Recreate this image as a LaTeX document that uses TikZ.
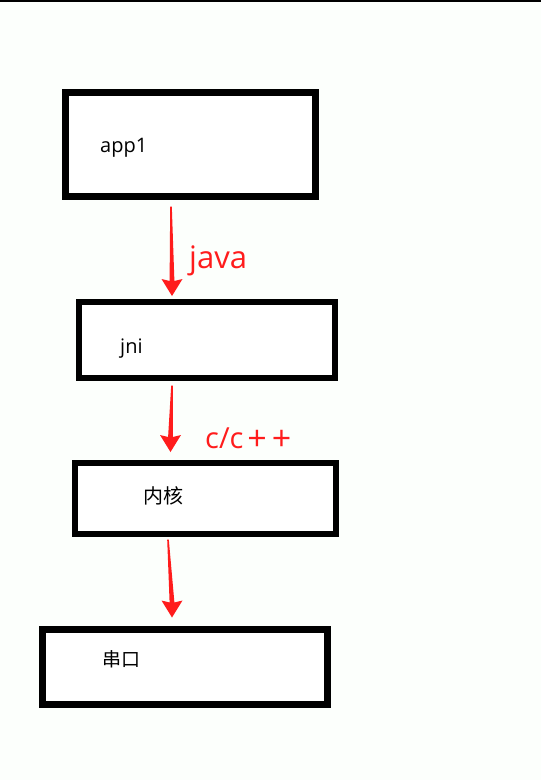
\documentclass[tikz,border=0pt]{standalone}
\usepackage{fontspec}
\setmainfont{Open Sans}
\newfontfamily\cjk{Noto Sans CJK SC}
\usetikzlibrary{calc}
\definecolor{arrowred}{RGB}{255,28,28}
\definecolor{bgcol}{RGB}{252,255,252}
\tikzset{
  box/.style={draw=black, fill=white, rectangle, inner sep=0pt},
  boxtext/.style={inner sep=0pt, text=black, font=\fontsize{20}{24}\selectfont},
  redlabel/.style={inner sep=0pt, text=arrowred},
}
\newcommand\wedgearrow[2]{%
  \fill[arrowred] ($(#1)+(-0.8,0)$) -- ($(#2)+(-2.4,-15)$) -- ($(#2)+(-10.5,-17)$) -- (#2)
    -- ($(#2)+(10.5,-17)$) -- ($(#2)+(2.4,-15)$) -- ($(#1)+(0.8,0)$) -- cycle;}
\begin{document}
\begin{tikzpicture}[x=1pt,y=-1pt]
  \fill[bgcol] (0,0) rectangle (541,780);
  \useasboundingbox (0,0) rectangle (541,780);
  \draw[line width=1.6pt, black] (0,0.8) -- (541,0.8);

  \node[box, line width=7pt, minimum width=250pt, minimum height=104pt] (b1) at (190.5,144.5) {};
  \node[box, line width=6pt, minimum width=256pt, minimum height=76pt] (b2) at (207,340) {};
  \node[box, line width=6pt, minimum width=261pt, minimum height=71pt] (b3) at (205.5,498.5) {};
  \node[box, line width=7pt, minimum width=285pt, minimum height=75pt] (b4) at (185,667) {};

  \node[boxtext, anchor=base west] (t1) at (100,152) {app1};
  \node[boxtext, anchor=base west] (t2) at (120,353) {jni};
  \node[boxtext, anchor=center] (t3) at (163,496) {\cjk 内核};
  \node[boxtext, anchor=center, font=\fontsize{19}{23}\selectfont] (t4) at (121,659) {\cjk 串口};

  \coordinate (s1) at ($(b1.south)+(-19.5,6.5)$);
  \coordinate (e1) at ($(b2.north)+(-35,-3)$);
  \coordinate (s2) at ($(b2.south)+(-35,4.5)$);
  \coordinate (e2) at ($(b3.north)+(-35,-8)$);
  \coordinate (s3) at ($(b3.south)+(-37.5,2.5)$);
  \coordinate (e3) at ($(b4.north)+(-13,-8.5)$);

  \wedgearrow{s1}{e1}
  \wedgearrow{s2}{e2}
  \wedgearrow{s3}{e3}

  \node[redlabel, anchor=base west, font=\fontsize{31}{36}\selectfont] (l1) at (189,268) {java};
  \node[redlabel, anchor=base west, font=\fontsize{29}{34}\selectfont] (l2) at (205,448) {c/c\kern4pt\raisebox{-2pt}{\fontsize{34}{36}\selectfont+\kern5pt+}};
\end{tikzpicture}
\end{document}
